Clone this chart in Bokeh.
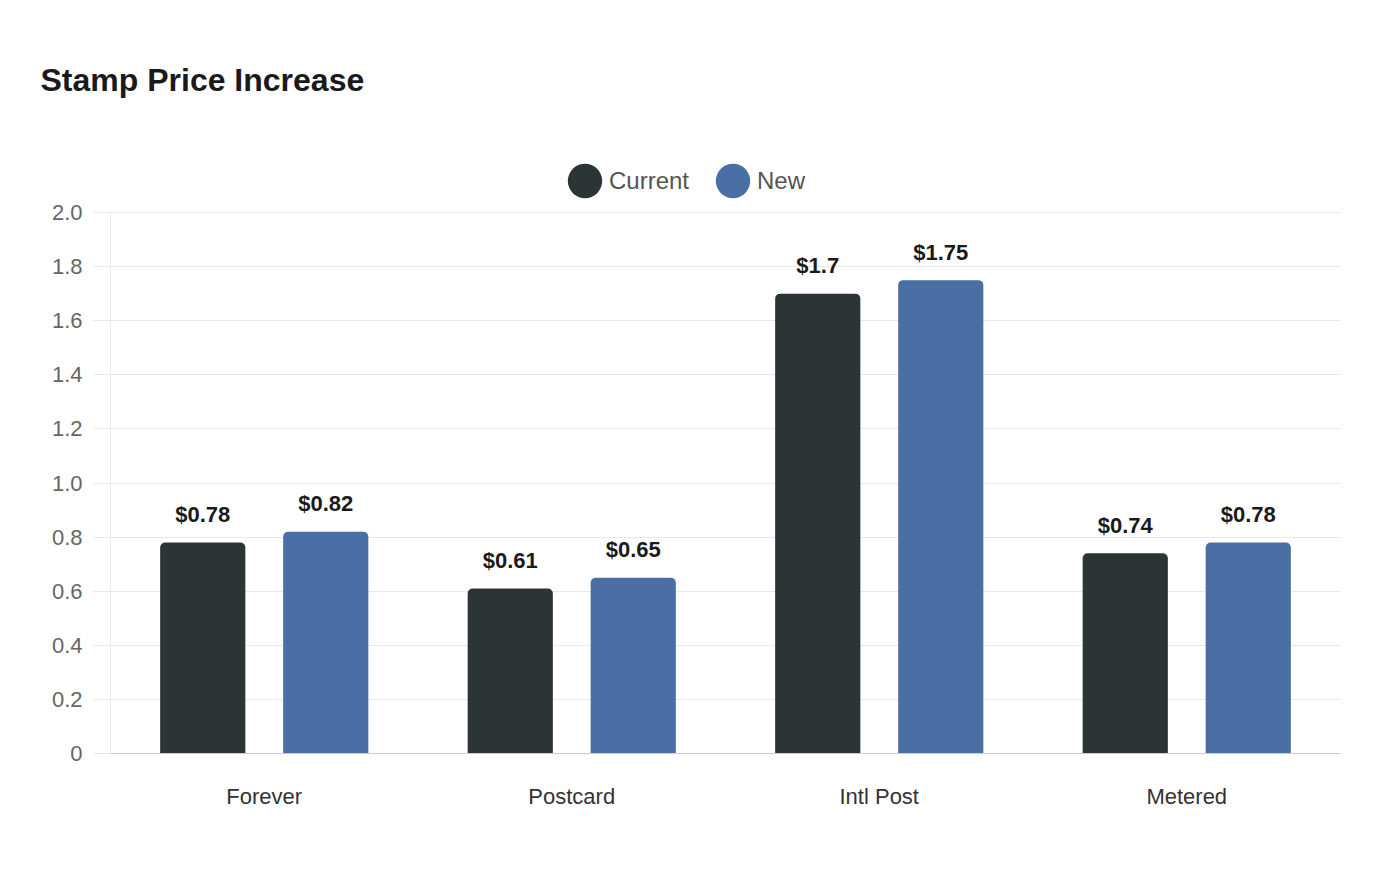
from bokeh.plotting import figure
from bokeh.models import (ColumnDataSource, FactorRange, Range1d, FixedTicker,
                          Legend, LegendItem)
from bokeh.transform import dodge
from bokeh.core.properties import value
from bokeh.embed import file_html
from bokeh.resources import INLINE

# ---- data ----
categories = ["Forever", "Postcard", "Intl Post", "Metered"]
current = [0.78, 0.61, 1.70, 0.74]
new = [0.82, 0.65, 1.75, 0.78]
series_names = ["Current", "New"]
y_ticks = [0, 0.2, 0.4, 0.6, 0.8, 1.0, 1.2, 1.4, 1.6, 1.8, 2.0]
y_tick_labels = ["0", "0.2", "0.4", "0.6", "0.8", "1.0", "1.2", "1.4", "1.6", "1.8", "2.0"]
title_text = "Stamp Price Increase"

FONT = "Liberation Sans"
C_CUR = "#2d3436"
C_NEW = "#4a6fa5"

src = ColumnDataSource(dict(
    cat=categories,
    current=current,
    new=new,
    current_lbl=[f"${v:g}" for v in current],
    new_lbl=[f"${v:g}" for v in new],
))

# headroom above the 2.0 gridline to host the legend
y_top = 2.0 + 82 / 270.5

p = figure(width=1400, height=880, x_range=FactorRange(*categories),
           y_range=Range1d(0, y_top), output_backend="svg", toolbar_location=None,
           min_border_left=110, min_border_right=60, min_border_top=130,
           min_border_bottom=127)
p.background_fill_color = "white"
p.border_fill_color = "white"
p.outline_line_color = None

# title
p.title.text = title_text
p.title.text_font = FONT
p.title.text_font_size = "32px"
p.title.text_font_style = "bold"
p.title.text_color = "#1a1a1a"
p.title.align = "left"
p.title.offset = -70
p.title.standoff = 66

p.vbar(x=dodge("cat", -0.2, range=p.x_range), top="current", width=0.277,
       source=src, fill_color=C_CUR, line_color=None, border_radius=(5, 5, 0, 0))
p.vbar(x=dodge("cat", 0.2, range=p.x_range), top="new", width=0.277,
       source=src, fill_color=C_NEW, line_color=None, border_radius=(5, 5, 0, 0))

for off, col in [(-0.2, "current"), (0.2, "new")]:
    p.text(x=dodge("cat", off, range=p.x_range), y=col, text=col + "_lbl",
           source=src, text_font=value(FONT), text_font_style="bold",
           text_font_size="22px", text_color="#1a1a1a", text_align="center",
           text_baseline="middle", y_offset=-28)

# axes
p.yaxis.ticker = FixedTicker(ticks=y_ticks)
p.yaxis.bounds = (0, 2.0)
p.yaxis.major_label_overrides = {t: l for t, l in zip(y_ticks, y_tick_labels)}
p.yaxis.major_label_text_font = FONT
p.yaxis.major_label_text_font_size = "22px"
p.yaxis.major_label_text_color = "#666666"
p.yaxis.major_tick_out = 17
p.yaxis.major_tick_in = 0
p.yaxis.major_tick_line_color = "#e8e8e8"
p.yaxis.minor_tick_line_color = None
p.yaxis.major_label_standoff = 11
p.yaxis.axis_line_color = "#d4d4d4"
p.yaxis.axis_line_dash = "1 1"

p.xaxis.major_label_text_font = FONT
p.xaxis.major_label_text_font_size = "22px"
p.xaxis.major_label_text_color = "#333333"
p.xaxis.major_tick_line_color = None
p.xaxis.major_label_standoff = 24
p.xaxis.axis_line_color = "#cccccc"
p.xaxis.axis_line_width = 1

p.xgrid.grid_line_color = None
p.ygrid.grid_line_color = "#e8e8e8"
p.ygrid.ticker = FixedTicker(ticks=y_ticks)

# legend swatches: circular ellipses (one point each, placed below the visible range)
leg_src = ColumnDataSource(dict(x=[categories[0]], y=[-1.0]))
r_lc = p.ellipse(x="x", y="y", width=34, height=34, width_units="screen",
                 height_units="screen", source=leg_src, fill_color=C_CUR,
                 line_color=None)
r_ln = p.ellipse(x="x", y="y", width=34, height=34, width_units="screen",
                 height_units="screen", source=leg_src, fill_color=C_NEW,
                 line_color=None)
legend = Legend(items=[LegendItem(label=series_names[0], renderers=[r_lc], index=0),
                       LegendItem(label=series_names[1], renderers=[r_ln], index=0)],
                orientation="horizontal", location=(453, 551),
                glyph_width=43, glyph_height=43, label_standoff=3, spacing=22,
                padding=0, margin=0, border_line_color=None,
                background_fill_alpha=0, label_text_font=FONT,
                label_text_font_size="24px", label_text_color="#555555",
                label_text_baseline="middle")
p.add_layout(legend, "center")

open("out.html", "w").write(file_html(p, INLINE))
